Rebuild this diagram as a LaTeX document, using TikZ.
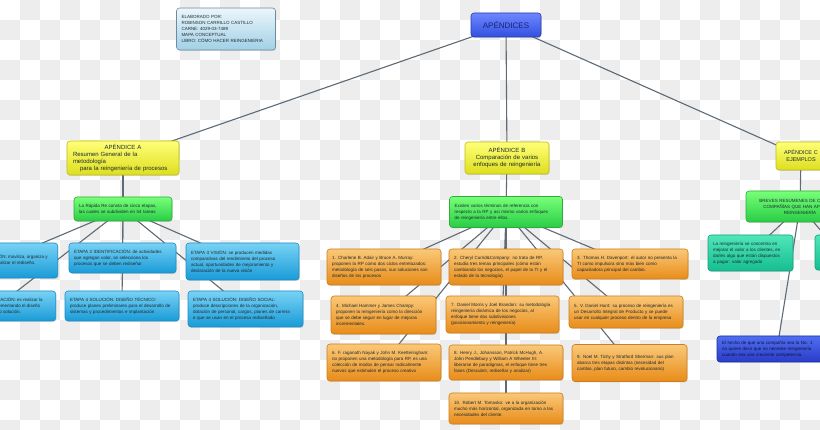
\documentclass[tikz,border=0pt]{standalone}
\usepackage{fontspec}
\setmainfont{Liberation Sans}
\usetikzlibrary{shadows}

\definecolor{linkgray}{HTML}{5E6A74}
\definecolor{checkgray}{HTML}{EDEDED}
\definecolor{txtdark}{HTML}{1E2A30}

\pgfdeclarelayer{back}
\pgfdeclarelayer{edges}
\pgfsetlayers{back,edges,main}

\tikzset{
  box/.style={rounded corners=3pt, draw, line width=0.6pt, align=left,
    inner xsep=5pt, inner ysep=1pt, text=txtdark,
    font=\fontsize{4.5}{6}\selectfont,
    drop shadow={shadow xshift=0.7pt, shadow yshift=-1pt, opacity=0.25}},
  rootbox/.style={box, align=center,
    top color={rgb,255:red,110;green,135;blue,255}, bottom color={rgb,255:red,50;green,80;blue,225},
    draw={rgb,255:red,40;green,60;blue,170}, text={rgb,255:red,25;green,35;blue,120},
    font=\fontsize{8}{9}\selectfont},
  infobox/.style={box, top color={rgb,255:red,236;green,246;blue,251}, bottom color={rgb,255:red,160;green,208;blue,230},
    draw={rgb,255:red,110;green,140;blue,160}},
  yellowbox/.style={box, top color={rgb,255:red,255;green,255;blue,120}, bottom color={rgb,255:red,222;green,222;blue,30},
    draw={rgb,255:red,190;green,190;blue,20}, font=\fontsize{6}{7}\selectfont},
  greenbox/.style={box, top color={rgb,255:red,120;green,255;blue,120}, bottom color={rgb,255:red,40;green,205;blue,70},
    draw={rgb,255:red,50;green,170;blue,60}},
  bluebox/.style={box, top color={rgb,255:red,120;green,210;blue,245}, bottom color={rgb,255:red,25;green,155;blue,215},
    draw={rgb,255:red,30;green,140;blue,200}},
  orangebox/.style={box, top color={rgb,255:red,250;green,200;blue,120}, bottom color={rgb,255:red,232;green,140;blue,25},
    draw={rgb,255:red,205;green,125;blue,30}},
  tealbox/.style={box, top color={rgb,255:red,80;green,230;blue,185}, bottom color={rgb,255:red,20;green,190;blue,145},
    draw={rgb,255:red,20;green,160;blue,120}},
  navybox/.style={box, top color={rgb,255:red,80;green,110;blue,240}, bottom color={rgb,255:red,40;green,60;blue,200},
    draw={rgb,255:red,30;green,45;blue,160}, text={rgb,255:red,15;green,20;blue,60}},
  link/.style={draw=linkgray, line width=1.1pt}
}

\begin{document}
\begin{tikzpicture}[x=1pt,y=-1pt]
  \clip (0,0) rectangle (820,430);
  \useasboundingbox (0,0) rectangle (820,430);

  % checkered background
  \begin{pgfonlayer}{back}
    \fill[white] (0,0) rectangle (820,430);
    \foreach \i in {0,...,40}{
      \foreach \j in {0,...,21}{
        \ifodd\numexpr\i+\j\relax
          \fill[checkgray] (\i*20,\j*20) rectangle ++(20,20);
        \fi
      }
    }
  \end{pgfonlayer}

  % top
  \node[infobox, text width=89pt, minimum height=42pt] (info) at (226,29)
    {ELABORADO POR:\\ ROBINSON CARRILLO CASTILLO\\ CARNE: 4029-03-7489\\ MAPA CONCEPTUAL\\ LIBRO: CÓMO HACER REINGENIERIA};
  \node[rootbox, minimum width=70pt, minimum height=24pt] (root) at (506,25) {APÉNDICES};

  % apendice A
  \node[yellowbox, text width=100pt, minimum height=34pt, inner xsep=6pt] (apA) at (123,158)
    {\makebox[\linewidth]{APÉNDICE A}\\ Resumen General de la\\ metodología\\ \hspace*{7pt}para la reingeniería de procesos};
  \node[greenbox, text width=88pt, minimum height=24pt] (gA) at (123,209)
    {La Rápida Re consta de cinco etapas,\\ las cuales se subdividen en 54 tareas};
  \node[bluebox, inner xsep=10pt, minimum height=35pt, anchor=east] (e1) at (58,260.5)
    {ETAPA 1 MOVILIZACIÓN: moviliza, organiza y\\ al personal que va a realizar el rediseño.};
  \node[bluebox, text width=97pt, minimum height=30pt] (e2) at (122.5,258)
    {ETAPA 2 IDENTIFICACIÓN: de actividades\\ que agregan valor, se selecciona los\\ procesos que se deben rediseñar};
  \node[bluebox, text width=103pt, minimum height=37pt] (e3) at (242.5,261.5)
    {ETAPA 3 VISIÓN: se producen medidas\\ comparativas del rendimiento del proceso\\ actual, oportunidades de mejoramiento y\\ declaración de la nueva visión};
  \node[bluebox, inner xsep=13pt, minimum height=30pt, anchor=east] (e4) at (56,306)
    {ETAPA 5 TRANSFORMACIÓN: es realizar la\\ visión del proceso implementando el diseño\\ que se ha definido como solución.};
  \node[bluebox, text width=104pt, minimum height=30pt] (e5) at (122,306)
    {ETAPA 4 SOLUCIÓN: DISEÑO TÉCNICO:\\ produce planes preliminares para el desarrollo de\\ sistemas y procedimientos e implantación};
  \node[bluebox, text width=105pt, minimum height=36pt] (e6) at (245.5,309)
    {ETAPA 4 SOLUCIÓN: DISEÑO SOCIAL:\\ produce descripciones de la organización,\\ dotación de personal, cargos, planes de carrera\\ e que se usan en el proceso rediseñado};

  % apendice B
  \node[yellowbox, align=center, text width=74pt, minimum height=32pt] (apB) at (507,158)
    {APÉNDICE B\\ Comparación de varios\\ enfoques de reingeniería};
  \node[greenbox, text width=103pt, minimum height=31pt] (gB) at (506,212)
    {Existen varios términos de referencia con\\ respecto a la RP y así mismo varios enfoques\\ de reingeniería entre ellos.};
  \node[orangebox, text width=104pt, minimum height=36pt] (o1) at (384,267)
    {1. Charlene B. Adair y Bruce A. Murray:\\ proponen la RP como dos ciclos entrelazados:\\ metodología de seis pasos, sus soluciones son\\ diseños de los procesos};
  \node[orangebox, text width=104pt, minimum height=36pt] (o2) at (506,267)
    {2. Cheryl Currid\&Company: no trata de RP,\\ estudia tres temas principales (cómo están\\ cambiando los negocios, el papel de la TI y el\\ estado de la tecnología)};
  \node[orangebox, text width=106pt, minimum height=30pt] (o3) at (630,264)
    {3. Thomas H. Davenport: el autor no presenta la\\ TI como impulsora sino más bien como\\ capacitadora principal del cambio.};
  \node[orangebox, text width=95pt, minimum height=38pt] (o4) at (383.5,315)
    {4. Michael Hammer y James Champy:\\ proponen la reingeniería como la dirección\\ que se debe seguir en lugar de mejoras\\ incrementales.};
  \node[orangebox, text width=103pt, minimum height=37pt] (o7) at (502.5,314.5)
    {7. Daniel Morris y Joel Brandon: su metodología\\ reingeniería dinámica de los negocios, al\\ enfoque tiene dos subdivisiones\\ (posicionamiento y reingeniería)};
  \node[orangebox, text width=104pt, minimum height=32pt] (o5) at (626,312)
    {5. V. Daniel Hunt: su proceso de reingeniería es\\ un Desarrollo Integral de Producto y se puede\\ usar en cualquier proceso dentro de la empresa};
  \node[orangebox, text width=104pt, minimum height=37pt] (o6) at (384,362.5)
    {6. F. raganath Nayak y John M. Keetteringham:\\ no proponen una metodología para RP, es una\\ colección de modos de pensar radicalmente\\ nuevos que estimulen el proceso creativo};
  \node[orangebox, text width=104pt, minimum height=35pt] (o8) at (506,362.5)
    {8. Henry J., Johansson, Patrick McHugh, A.\\ John Pendlebury y William A Wheeler III:\\ liberarse de paradigmas, el enfoque tiene tres\\ fases (Descubrir, rediseñar y analizar)};
  \node[orangebox, text width=105pt, minimum height=37pt] (o9) at (629.5,363)
    {9. Noel M. Tichy y Stratford Sherman: sus plan\\ abarca tres etapas distintas (necesidad del\\ cambio, plan futuro, cambio revolucionario)};
  \node[orangebox, text width=104pt, minimum height=31pt] (o10) at (506,408.5)
    {10. Robert M. Tomasko: ve a la organización\\ mucho más horizontal, organizada en torno a las\\ necesidades del cliente.};

  % apendice C
  \node[yellowbox, align=center, text width=40pt, minimum height=28pt, font=\fontsize{5.5}{7}\selectfont] (apC) at (801,156)
    {APÉNDICE C\\ EJEMPLOS};
  \node[greenbox, align=center, text width=98pt, minimum height=31pt] (gC) at (800,206.5)
    {BREVES RESÚMENES DE CASOS DE\\ COMPAÑÍAS QUE HAN APLICADO\\ REINGENIERÍA};
  \node[tealbox, text width=75pt, minimum height=36pt] (tC) at (750.5,253)
    {La reingeniería se concentra en\\ mejorar el valor a los clientes, en\\ darles algo que están dispuestos\\ a pagar: valor agregado};
  \node[tealbox, text width=40pt, minimum height=35pt] (tC2) at (840,252.5) {};
  \node[navybox, text width=110pt, minimum height=26pt] (nC) at (777,349)
    {El hecho de que una compañía sea la No. 1\\ no quiere decir que no necesite reingeniería\\ cuando sea una creciente competencia.};

  % connectors
  \begin{pgfonlayer}{edges}
    \foreach \a/\b in {root/apA, root/apB, root/apC, apA/gA, apB/gB, apC/gC}
      \draw[link] (\a.center) -- (\b.center);
    \foreach \b in {e1,e2,e3,e4,e5,e6}
      \draw[link] (gA.center) -- (\b.center);
    \foreach \b in {o1,o2,o3,o4,o5,o6,o7,o8,o9,o10}
      \draw[link] (gB.center) -- (\b.center);
    \foreach \b in {tC,tC2,nC}
      \draw[link] (gC.center) -- (\b.center);
  \end{pgfonlayer}
\end{tikzpicture}
\end{document}
